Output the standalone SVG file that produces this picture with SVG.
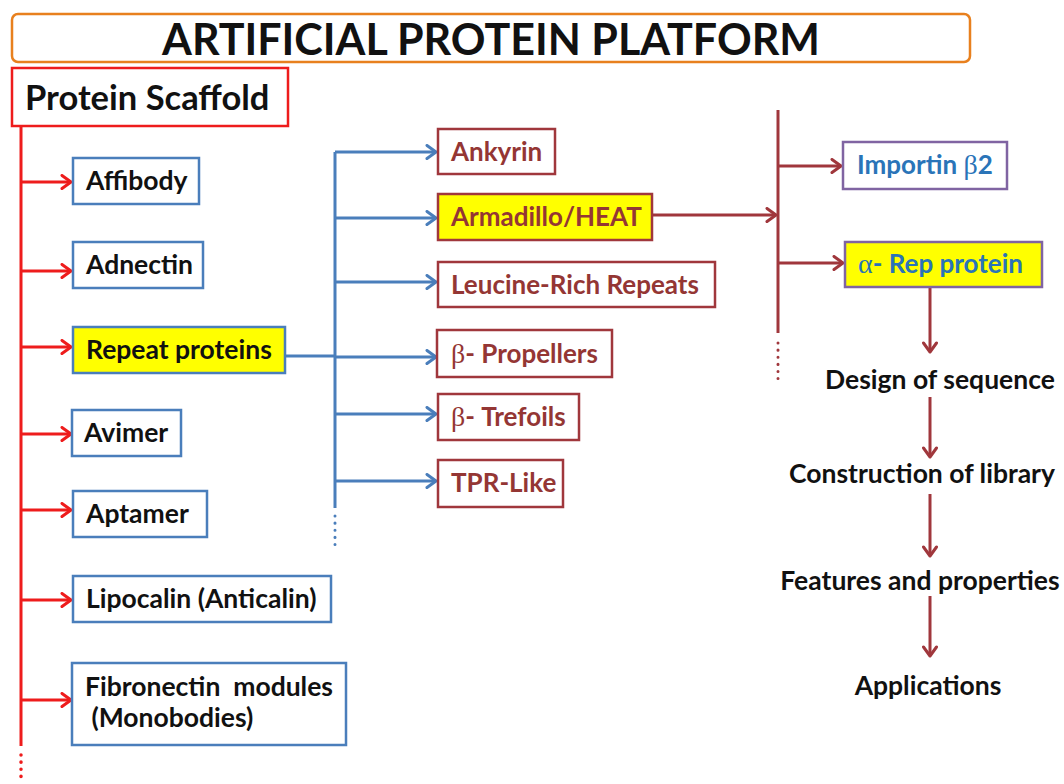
<svg xmlns="http://www.w3.org/2000/svg" width="1064" height="784" viewBox="0 0 1064 784">
<defs>
<marker id="arR" markerUnits="userSpaceOnUse" markerWidth="14" markerHeight="16" refX="11" refY="8" orient="auto" viewBox="0 0 14 16">
<path d="M2,1.5 L11,8 L2,14.5" fill="none" stroke="#ee1c1c" stroke-width="3" stroke-linecap="round" stroke-linejoin="round"/>
</marker>
<marker id="arB" markerUnits="userSpaceOnUse" markerWidth="14" markerHeight="16" refX="11" refY="8" orient="auto" viewBox="0 0 14 16">
<path d="M2,1.5 L11,8 L2,14.5" fill="none" stroke="#4a7ebb" stroke-width="3" stroke-linecap="round" stroke-linejoin="round"/>
</marker>
<marker id="arD" markerUnits="userSpaceOnUse" markerWidth="14" markerHeight="16" refX="11" refY="8" orient="auto" viewBox="0 0 14 16">
<path d="M2,1.5 L11,8 L2,14.5" fill="none" stroke="#a0373c" stroke-width="3" stroke-linecap="round" stroke-linejoin="round"/>
</marker>
</defs>
<style>
text{font-family:Lato,"Open Sans","Liberation Sans",sans-serif;font-weight:bold}
.t{font-size:26.5px;fill:#111}
.m{font-size:26px;fill:#943634}
.p{font-size:26px;fill:#2a74b8}
.g{font-family:"Liberation Serif",serif;font-weight:normal;font-size:28px}
.bb{fill:#fff;stroke:#4a7ebb;stroke-width:2.5}
.rb{fill:#fff;stroke:#a0373c;stroke-width:2.5}
.pb{fill:#fff;stroke:#8064a2;stroke-width:2.5}
.y{fill:#ffff00}
.lr{stroke:#ee1c1c;stroke-width:3;fill:none}
.lb{stroke:#4a7ebb;stroke-width:3;fill:none}
.ld{stroke:#a0373c;stroke-width:3;fill:none}
.dr{stroke:#ee1c1c;stroke-width:3.5;stroke-dasharray:0.1 7;stroke-linecap:round;fill:none}
.db{stroke:#4a7ebb;stroke-width:3;stroke-dasharray:0.1 7;stroke-linecap:round;fill:none}
.dd{stroke:#a0373c;stroke-width:3;stroke-dasharray:0.1 7;stroke-linecap:round;fill:none}
</style>
<rect width="1064" height="784" fill="#fff"/>

<g id="connectors">
<line class="lr" x1="21" y1="126" x2="21" y2="746"/>
<line class="dr" x1="21" y1="755" x2="21" y2="782"/>
<line class="lr" x1="21" y1="182" x2="71" y2="182" marker-end="url(#arR)"/>
<line class="lr" x1="21" y1="271" x2="71" y2="271" marker-end="url(#arR)"/>
<line class="lr" x1="21" y1="347" x2="71" y2="347" marker-end="url(#arR)"/>
<line class="lr" x1="21" y1="434" x2="71" y2="434" marker-end="url(#arR)"/>
<line class="lr" x1="21" y1="510" x2="71" y2="510" marker-end="url(#arR)"/>
<line class="lr" x1="21" y1="600" x2="71" y2="600" marker-end="url(#arR)"/>
<line class="lr" x1="21" y1="700" x2="71" y2="700" marker-end="url(#arR)"/>

<line class="lb" x1="335" y1="152" x2="335" y2="508"/>
<line class="db" x1="335" y1="516" x2="335" y2="550"/>
<line class="lb" x1="286" y1="356" x2="335" y2="356"/>
<line class="lb" x1="335" y1="152" x2="436" y2="152" marker-end="url(#arB)"/>
<line class="lb" x1="335" y1="218" x2="436" y2="218" marker-end="url(#arB)"/>
<line class="lb" x1="335" y1="282" x2="436" y2="282" marker-end="url(#arB)"/>
<line class="lb" x1="335" y1="357" x2="436" y2="357" marker-end="url(#arB)"/>
<line class="lb" x1="335" y1="414" x2="436" y2="414" marker-end="url(#arB)"/>
<line class="lb" x1="335" y1="481" x2="436" y2="481" marker-end="url(#arB)"/>

<line class="ld" x1="653" y1="215" x2="776" y2="215" marker-end="url(#arD)"/>
<line class="ld" x1="778" y1="110" x2="778" y2="333"/>
<line class="dd" x1="778" y1="343" x2="778" y2="380"/>
<line class="ld" x1="778" y1="166" x2="841" y2="166" marker-end="url(#arD)"/>
<line class="ld" x1="778" y1="263" x2="843" y2="263" marker-end="url(#arD)"/>
<line class="ld" x1="930" y1="288" x2="930" y2="352" marker-end="url(#arD)"/>
<line class="ld" x1="930" y1="397" x2="930" y2="457" marker-end="url(#arD)"/>
<line class="ld" x1="930" y1="494" x2="930" y2="556" marker-end="url(#arD)"/>
<line class="ld" x1="930" y1="596" x2="930" y2="656" marker-end="url(#arD)"/>
</g>

<g id="title">
<rect x="12" y="14" width="958" height="48" rx="6" fill="#fff" stroke="#e8801e" stroke-width="2.5"/>
<text x="491" y="55" font-size="43" fill="#111" text-anchor="middle">ARTIFICIAL PROTEIN PLATFORM</text>
</g>

<g id="protein-scaffold">
<rect x="12" y="68" width="276" height="58" fill="#fff" stroke="#ee1c1c" stroke-width="2.5"/>
<text x="25" y="110" font-size="34.5" fill="#111">Protein Scaffold</text>
</g>

<g id="affibody"><rect class="bb" x="73" y="158" width="126" height="46"/><text class="t" x="86" y="190">Affibody</text></g>
<g id="adnectin"><rect class="bb" x="73" y="242" width="130" height="46"/><text class="t" x="86" y="274">Adnectin</text></g>
<g id="repeat-proteins"><rect class="bb y" x="73" y="327" width="212" height="46"/><text class="t" x="86" y="359">Repeat proteins</text></g>
<g id="avimer"><rect class="bb" x="72" y="410" width="109" height="46"/><text class="t" x="84" y="442">Avimer</text></g>
<g id="aptamer"><rect class="bb" x="73" y="491" width="134" height="46"/><text class="t" x="86" y="523">Aptamer</text></g>
<g id="lipocalin"><rect class="bb" x="73" y="576" width="258" height="46"/><text class="t" x="86" y="608">Lipocalin (Anticalin)</text></g>
<g id="fibronectin"><rect class="bb" x="72" y="663" width="274" height="82"/><text class="t" x="85" y="696" xml:space="preserve">Fibronectin  modules</text><text class="t" x="85" y="727" xml:space="preserve"> (Monobodies)</text></g>

<g id="ankyrin"><rect class="rb" x="438" y="129" width="117" height="45"/><text class="m" x="451" y="161">Ankyrin</text></g>
<g id="armadillo"><rect class="rb y" x="438" y="194" width="214" height="46"/><text class="m" x="451" y="226">Armadillo/HEAT</text></g>
<g id="leucine"><rect class="rb" x="438" y="262" width="277" height="45"/><text class="m" x="451" y="294">Leucine-Rich Repeats</text></g>
<g id="beta-propellers"><rect class="rb" x="437" y="330" width="175" height="47"/><text class="m" x="451" y="363"><tspan class="g">β</tspan>- Propellers</text></g>
<g id="beta-trefoils"><rect class="rb" x="438" y="394" width="141" height="46"/><text class="m" x="451" y="426"><tspan class="g">β</tspan>- Trefoils</text></g>
<g id="tpr-like"><rect class="rb" x="438" y="460" width="125" height="47"/><text class="m" x="451" y="492">TPR-Like</text></g>

<g id="importin"><rect class="pb" x="843" y="142" width="164" height="47"/><text class="p" x="857" y="174">Importin <tspan class="g">β</tspan>2</text></g>
<g id="alpha-rep"><rect class="pb y" x="845" y="242" width="197" height="45"/><text class="p" x="858" y="273"><tspan class="g">α</tspan>- Rep protein</text></g>

<g id="design"><text class="t" x="940" y="389" text-anchor="middle">Design of sequence</text></g>
<g id="construction"><text class="t" x="922" y="483" text-anchor="middle">Construction of library</text></g>
<g id="features"><text class="t" x="920" y="590" text-anchor="middle">Features and properties</text></g>
<g id="applications"><text class="t" x="928" y="695" text-anchor="middle">Applications</text></g>
</svg>
